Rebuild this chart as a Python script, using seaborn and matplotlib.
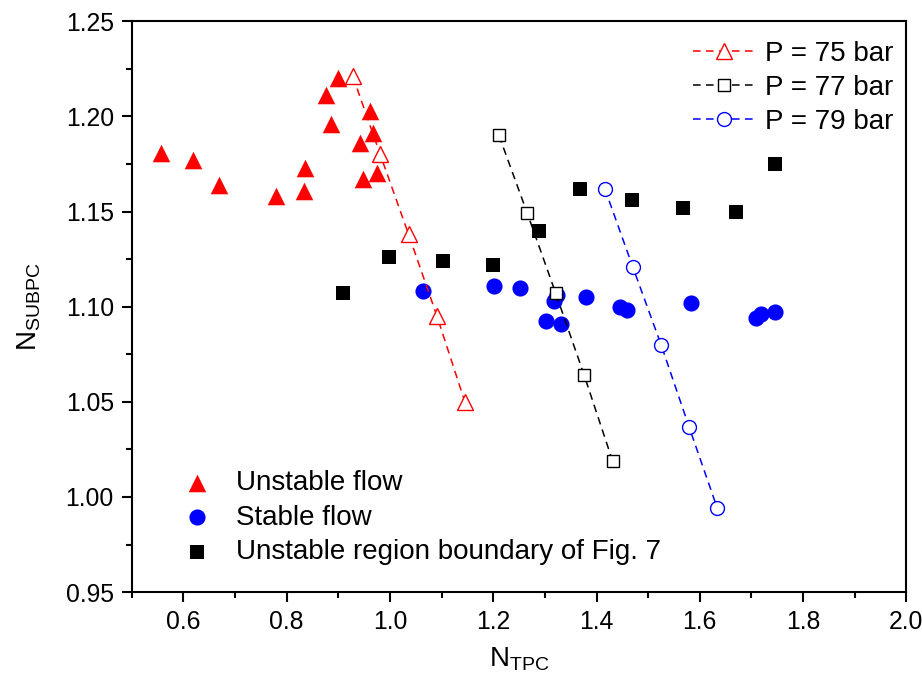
import pandas as pd
import matplotlib.pyplot as plt
import seaborn as sns

# filled markers: measured points
unstable_x = [0.556, 0.618, 0.669, 0.779, 0.836, 0.834, 0.885, 0.876, 0.900, 0.962, 0.968, 0.942, 0.947, 0.975]
unstable_y = [1.181, 1.177, 1.164, 1.158, 1.173, 1.161, 1.196, 1.211, 1.220, 1.203, 1.191, 1.186, 1.167, 1.170]

stable_x = [1.063, 1.201, 1.252, 1.318, 1.324, 1.303, 1.331, 1.380, 1.446, 1.459, 1.582, 1.709, 1.719, 1.746]
stable_y = [1.108, 1.111, 1.110, 1.103, 1.106, 1.0925, 1.091, 1.105, 1.100, 1.0985, 1.102, 1.094, 1.096, 1.097]

boundary_x = [0.908, 0.999, 1.103, 1.200, 1.289, 1.368, 1.468, 1.567, 1.670, 1.746]
boundary_y = [1.107, 1.126, 1.124, 1.122, 1.140, 1.162, 1.156, 1.152, 1.150, 1.175]

# dashed lines: pressure series
p75_x = [0.928, 0.981, 1.036, 1.091, 1.145]
p75_y = [1.221, 1.180, 1.138, 1.095, 1.050]
p77_x = [1.211, 1.266, 1.321, 1.376, 1.431]
p77_y = [1.190, 1.149, 1.107, 1.064, 1.019]
p79_x = [1.416, 1.470, 1.525, 1.579, 1.634]
p79_y = [1.162, 1.121, 1.080, 1.037, 0.994]

sns.set_theme(style="ticks")
plt.rcParams['font.family'] = ['Liberation Sans', 'DejaVu Sans']
plt.rcParams['mathtext.default'] = 'regular'
plt.rcParams['text.color'] = 'black'
plt.rcParams['axes.labelcolor'] = 'black'
plt.rcParams['xtick.color'] = 'black'
plt.rcParams['ytick.color'] = 'black'

fig, ax = plt.subplots(figsize=(9.22, 6.83), dpi=100)
fig.subplots_adjust(left=0.143, right=0.983, top=0.969, bottom=0.133)

sns.scatterplot(x=unstable_x, y=unstable_y, marker='^', color='#FF0000', s=160,
                linewidth=0, label='Unstable flow', ax=ax, zorder=2)
sns.scatterplot(x=stable_x, y=stable_y, marker='o', color='#0000FF', s=135,
                linewidth=0, label='Stable flow', ax=ax, zorder=2)
sns.scatterplot(x=boundary_x, y=boundary_y, marker='s', color='black', s=100,
                linewidth=0, label='Unstable region boundary of Fig. 7', ax=ax, zorder=2)

series = [(p75_x, p75_y, '#FF0000', '^', 12, 'P = 75 bar'),
          (p77_x, p77_y, 'black', 's', 9, 'P = 77 bar'),
          (p79_x, p79_y, '#0000FF', 'o', 10, 'P = 79 bar')]
for xs, ys, c, m, ms, lab in series:
    sns.lineplot(x=xs, y=ys, color=c, marker=m, markersize=ms, markerfacecolor='white',
                 markeredgecolor=c, markeredgewidth=1.0, linewidth=1.1, linestyle=(0, (5, 3.5)),
                 label=lab, ax=ax, zorder=3)

ax.set_xlim(0.5, 2.0)
ax.set_ylim(0.95, 1.25)
ax.set_xticks([0.6, 0.8, 1.0, 1.2, 1.4, 1.6, 1.8, 2.0])
ax.set_xticks([0.5, 0.7, 0.9, 1.1, 1.3, 1.5, 1.7, 1.9], minor=True)
ax.set_yticks([0.95, 1.00, 1.05, 1.10, 1.15, 1.20, 1.25])
ax.set_yticks([0.975, 1.025, 1.075, 1.125, 1.175, 1.225], minor=True)
ax.set_xticklabels(['0.6', '0.8', '1.0', '1.2', '1.4', '1.6', '1.8', '2.0'])
ax.set_yticklabels(['0.95', '1.00', '1.05', '1.10', '1.15', '1.20', '1.25'])
ax.tick_params(which='major', direction='out', length=7, width=1.5, labelsize=17.8, pad=6)
ax.tick_params(which='minor', direction='out', length=4, width=1.5)
for sp in ax.spines.values():
    sp.set_visible(True)
    sp.set_linewidth(1.5)
    sp.set_color('black')

ax.set_xlabel(r'N$_{\mathregular{TPC}}$', fontsize=20, labelpad=8)
ax.set_ylabel(r'N$_{\mathregular{SUBPC}}$', fontsize=20, labelpad=16)

handles, labels = ax.get_legend_handles_labels()
leg1 = ax.legend(handles[3:], labels[3:], loc='upper right', frameon=False, fontsize=20,
                 handlelength=2.2, handletextpad=0.4, labelspacing=0.3,
                 borderaxespad=0.0, borderpad=0.45, bbox_to_anchor=(1.0, 0.988))
ax.add_artist(leg1)
ax.legend(handles[:3], labels[:3], loc='lower left', frameon=False, fontsize=20,
          handlelength=1.0, handletextpad=0.9, labelspacing=0.3,
          bbox_to_anchor=(0.034, 0.004))

plt.savefig('out.png', dpi=100)
plt.close()
